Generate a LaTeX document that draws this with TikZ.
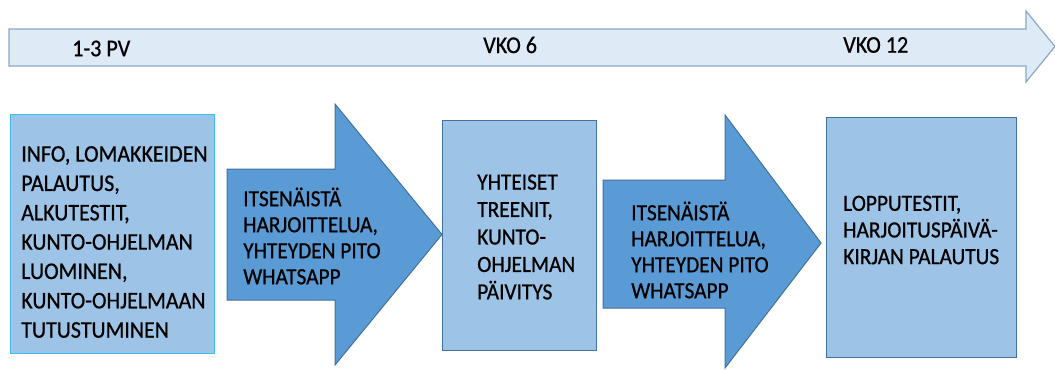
\documentclass[tikz,border=0pt]{standalone}
\usepackage{fontspec}
\setmainfont{Carlito}[FakeStretch=0.92,FakeBold=0.7]
\definecolor{timefill}{HTML}{DEEBF7}
\definecolor{timeline}{HTML}{8BA6C9}
\definecolor{boxfill}{HTML}{9DC3E6}
\definecolor{boxline}{HTML}{41719C}
\definecolor{firstline}{HTML}{3DBDF0}
\definecolor{arrowfill}{HTML}{5B9BD5}
\begin{document}
\begin{tikzpicture}[x=0.75pt,y=-0.75pt,
    steptext/.style={anchor=west,inner sep=0pt,align=left,text=black,
      font=\fontsize{17.4}{19.5}\selectfont}]
\useasboundingbox (0,0) rectangle (1055,369);

\def\BOXFILL{boxfill}
	% timeline
	\filldraw[fill=timefill,draw=timeline,line width=0.9pt] (9,29) -- (1026,29) -- (1026,11) -- (1055,46.5) -- (1026,82) -- (1026,66) -- (9,66) -- cycle;
	\node[steptext,font=\fontsize{18}{20}\selectfont] (pv) at (72,48.5) {1-3 PV};
	\node[steptext,font=\fontsize{18}{20}\selectfont] (vko6) at (483,45) {VKO 6};
	\node[steptext,font=\fontsize{18}{20}\selectfont] (vko12) at (843,45) {VKO 12};

	% boxes
	\filldraw[fill=\BOXFILL,draw=firstline,line width=0.75pt] (10,114) rectangle (214,353);
	\filldraw[fill=\BOXFILL,draw=boxline,line width=0.75pt] (442,120) rectangle (596,350);
	\filldraw[fill=\BOXFILL,draw=boxline,line width=0.75pt] (826,117) rectangle (1016,357);

	% arrows
	\filldraw[fill=arrowfill,draw=boxline,line width=0.75pt] (227,169) -- (335,169) -- (335,104) -- (442,234.5) -- (335,365) -- (335,300) -- (227,300) -- cycle;
	\filldraw[fill=arrowfill,draw=boxline,line width=0.75pt] (603,180) -- (725,180) -- (725,115) -- (821,243) -- (725,368) -- (725,308) -- (603,308) -- cycle;

	% texts
	\node[steptext,font=\fontsize{17.9}{22}\selectfont] (info) at (21,242) {INFO, LOMAKKEIDEN\\PALAUTUS,\\ALKUTESTIT,\\KUNTO-OHJELMAN\\LUOMINEN,\\KUNTO-OHJELMAAN\\TUTUSTUMINEN};
	\node[steptext] (omat1) at (243,236) {ITSENÄISTÄ\\HARJOITTELUA,\\YHTEYDEN PITO\\WHATSAPP};
	\node[steptext,font=\fontsize{17.4}{20.6}\selectfont] (yhteiset) at (477,237) {YHTEISET\\TREENIT,\\KUNTO-\\OHJELMAN\\PÄIVITYS};
	\node[steptext] (omat2) at (631,250) {ITSENÄISTÄ\\HARJOITTELUA,\\YHTEYDEN PITO\\WHATSAPP};
	\node[steptext,font=\fontsize{17.4}{20}\selectfont] (loppu) at (843,230) {LOPPUTESTIT,\\HARJOITUSPÄIVÄ-\\KIRJAN PALAUTUS};

          \end{tikzpicture}
\end{document}
